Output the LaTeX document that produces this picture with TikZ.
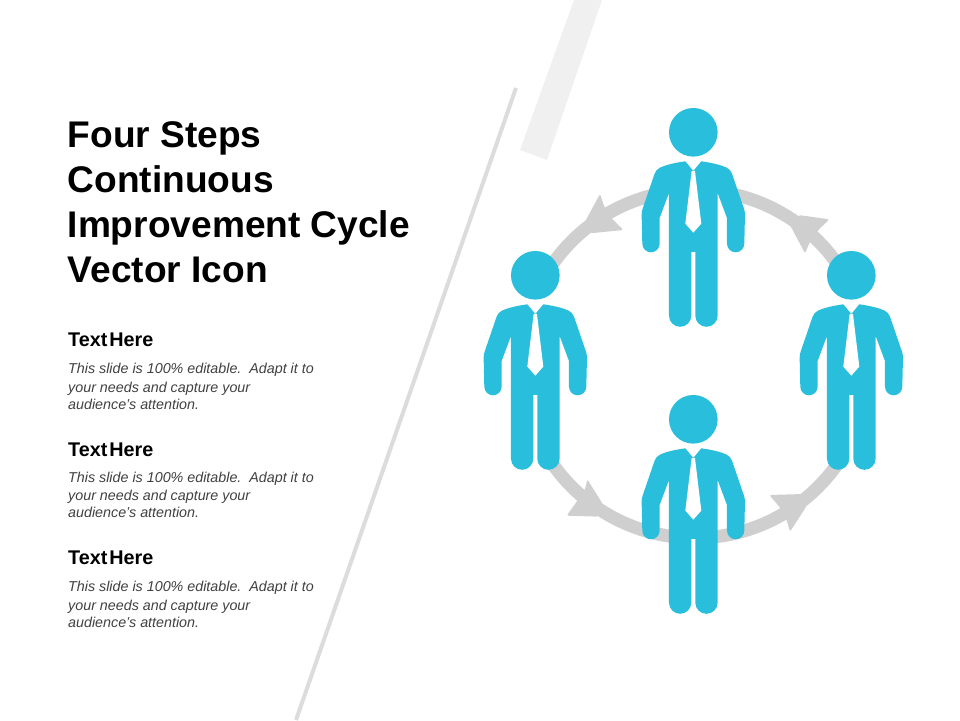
\documentclass[tikz,border=0pt]{standalone}
\usepackage{fontspec}
\setmainfont{Liberation Sans}
\definecolor{figblue}{HTML}{29BEDB}
\definecolor{ringgray}{HTML}{CFCFCF}
\definecolor{bodygray}{HTML}{404040}
\definecolor{linegray}{HTML}{DCDCDC}
\definecolor{bandgray}{HTML}{F0F0F0}
\tikzset{
  titletext/.style={anchor=base west,inner sep=0pt,font=\bfseries\fontsize{37.1}{44}\selectfont,text=black},
  headtext/.style={anchor=base west,inner sep=0pt,font=\bfseries\fontsize{19.8}{24}\selectfont,text=black},
  bodytext/.style={anchor=base west,inner sep=0pt,font=\itshape\fontsize{14.3}{17}\selectfont,text=bodygray},
  ringarc/.style={draw=ringgray,line width=13pt},
  ringhead/.style={fill=ringgray,rounded corners=2pt},
  zoomgrid/.style={x=0.33333pt,y=-0.33333pt},
  person/.pic={
    \begin{scope}[zoomgrid]
      \fill[figblue] (0,0) circle[radius=73];
      \fill[figblue] (0,116) -- (24,87)
        .. controls (60,92) and (85,99) .. (100,106)
        .. controls (108,110) and (113,116) .. (116,124)
        -- (151,226) .. controls (154,233) and (155,240) .. (155,248)
        -- (153,334)
        arc[start angle=0,end angle=180,radius=26]
        -- (101,257) -- (73,182) -- (73,550)
        arc[start angle=0,end angle=180,radius=33.5]
        -- (6,359) -- (-6,359) -- (-6,550)
        arc[start angle=0,end angle=180,radius=33.5]
        -- (-73,182) -- (-101,257) -- (-101,334)
        arc[start angle=0,end angle=180,radius=26]
        -- (-155,248) .. controls (-155,240) and (-154,233) .. (-151,226)
        -- (-116,124) .. controls (-113,116) and (-108,110) .. (-100,106)
        .. controls (-85,99) and (-60,92) .. (-24,87) -- cycle;
      \fill[white] (-5,116) -- (5,116) -- (24,274) -- (0,301) -- (-24,274) -- cycle;
    \end{scope}
  }
}
\begin{document}
\begin{tikzpicture}[x=1pt,y=-1pt]
\useasboundingbox (0,0) rectangle (960,720);
% background strokes
\fill[bandgray] (574,0) -- (602,0) -- (547,160) -- (520,150) -- cycle;
\coordinate (lineTop) at (516,88);
\coordinate (lineBottom) at (296,720);
\draw[linegray,line width=4pt] (lineTop) -- (lineBottom);
% ring
\coordinate (ringC) at (695,364);
\draw[ringarc] (ringC) ++(258:174) arc[start angle=258,end angle=212,radius=174];
\draw[ringarc] (ringC) ++(282:174) arc[start angle=282,end angle=327,radius=174];
\draw[ringarc] (ringC) ++(148:174) arc[start angle=148,end angle=97,radius=174];
\draw[ringarc] (ringC) ++(32:174) arc[start angle=32,end angle=84,radius=174];
% arrowheads
\begin{scope}[shift={(540,170)},zoomgrid]
  \fill[ringhead] (180,72) -- (195,115) -- (215,145) -- (250,180) -- (150,190) -- (135,155) -- cycle;
\end{scope}
\begin{scope}[shift={(740,170)},zoomgrid]
  \fill[ringhead] (175,135) -- (268,148) -- (235,180) -- (210,215) -- (195,250) -- (150,165) -- cycle;
\end{scope}
\begin{scope}[shift={(540,450)},zoomgrid]
  \fill[ringhead] (142,88) -- (190,165) -- (175,200) -- (80,197) -- (110,155) -- (135,118) -- cycle;
\end{scope}
\begin{scope}[shift={(740,450)},zoomgrid]
  \fill[ringhead] (88,135) -- (190,132) -- (200,168) -- (150,245) -- (140,210) -- (122,175) -- cycle;
\end{scope}
% people
\pic at (693.3,132.3) {person};
\pic at (535.3,275.3) {person};
\pic at (851.3,275.3) {person};
\pic at (693.3,419.3) {person};
% title
\node[titletext] (t1) at (67.5,147) {Four Steps};
\node[titletext] (t2) at (67.5,192) {Continuous};
\node[titletext] (t3) at (67.5,237) {Improvement Cycle};
\node[titletext] (t4) at (67.5,282) {Vector Icon};
% text blocks
\node[headtext] (h1) at (68,346) {Text\hspace{0.1em}Here};
\node[bodytext] (b1a) at (68,373) {This slide is 100\% editable.\ \ Adapt it to};
\node[bodytext] (b1b) at (68,392) {your needs and capture your};
\node[bodytext] (b1c) at (68,409) {audience's attention.};
\node[headtext] (h2) at (68,456) {Text\hspace{0.1em}Here};
\node[bodytext] (b2a) at (68,482) {This slide is 100\% editable.\ \ Adapt it to};
\node[bodytext] (b2b) at (68,500) {your needs and capture your};
\node[bodytext] (b2c) at (68,517) {audience's attention.};
\node[headtext] (h3) at (68,564) {Text\hspace{0.1em}Here};
\node[bodytext] (b3a) at (68,591) {This slide is 100\% editable.\ \ Adapt it to};
\node[bodytext] (b3b) at (68,610) {your needs and capture your};
\node[bodytext] (b3c) at (68,627) {audience's attention.};
\end{tikzpicture}
\end{document}
